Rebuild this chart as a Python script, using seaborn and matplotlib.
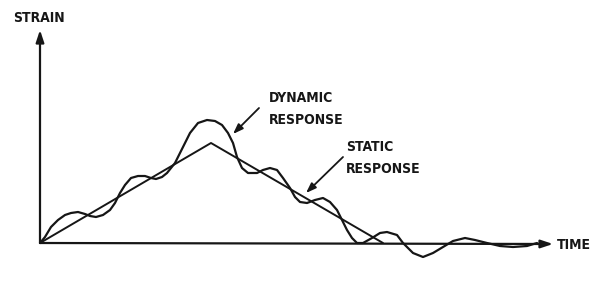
import matplotlib
matplotlib.use("Agg")
import matplotlib.pyplot as plt
from matplotlib import font_manager
import seaborn as sns
import pandas as pd

# Data (arbitrary units: time, strain)
static_time = [0, 171, 343]
static_strain = [0, 100, 0]

dynamic_time = [0, 5, 11, 18, 25, 31, 38, 45, 50, 56, 63, 70, 75, 80, 85, 91,
                98, 105, 111, 116, 122, 127, 135, 143, 150, 158, 167, 175, 182,
                188, 193, 197, 202, 208, 217, 223, 230, 237, 243, 250, 255, 260,
                267, 275, 283, 290, 297, 303, 307, 312, 317, 323, 332, 340, 347,
                357, 363, 373, 383, 393, 403, 413, 425, 435, 447, 460, 473, 487, 497]
dynamic_strain = [0, 6, 16, 23, 28, 30, 31, 29, 27, 26, 28, 33, 40, 50, 58, 65,
                  67, 67, 65, 64, 66, 70, 80, 96, 110, 120, 123, 122, 118,
                  110, 100, 86, 75, 70, 70, 73, 75, 73, 65, 55, 46, 41,
                  40, 43, 45, 41, 33, 21, 13, 5, 0, 0, 5, 10, 11,
                  8, 0, -10, -14, -10, -4, 2, 5, 3, 0, -3, -4, -3, 0]

x_label = "TIME"
y_label = "STRAIN"
dyn_label = "DYNAMIC\nRESPONSE"
stat_label = "STATIC\nRESPONSE"

sns.set_theme(style="white")
cond = [f for f in font_manager.fontManager.ttflist
        if ("Condensed" in f.fname or "Narrow" in f.name or f.stretch == "condensed")]
if cond:
    fam = cond[0].name
    stretch = "condensed"
    fsize = 10
else:
    fam = "DejaVu Sans"
    stretch = "normal"
    fsize = 8.5
plt.rcParams["font.family"] = [fam, "DejaVu Sans"]

ink = "#161616"
fig = plt.figure(figsize=(5.92, 2.81), dpi=100)
ax = fig.add_axes([0, 0, 1, 1])

static_df = pd.DataFrame({"time": static_time, "strain": static_strain})
dyn_df = pd.DataFrame({"time": dynamic_time, "strain": dynamic_strain})
sns.lineplot(data=static_df, x="time", y="strain", ax=ax, color=ink, lw=1.4,
             sort=False, estimator=None)
sns.lineplot(data=dyn_df, x="time", y="strain", ax=ax, color=ink, lw=1.6,
             sort=False, estimator=None)

ax.set_xlim(-40, 552)
ax.set_ylim(-38, 243)
ax.axis("off")

arrow_kw = dict(arrowstyle="-|>,head_length=0.6,head_width=0.2", color=ink, lw=1.6,
                shrinkA=0, shrinkB=0)
ax.annotate("", xy=(0, 213), xytext=(0, 0), arrowprops=arrow_kw)
ax.annotate("", xy=(513, -1), xytext=(0, 0), arrowprops=arrow_kw)

tkw = dict(fontsize=fsize, fontweight="bold", fontstretch=stretch, color=ink,
           linespacing=1.8)
ax.text(-27, 225, y_label, ha="left", va="center", **tkw)
ax.text(517, -2, x_label, ha="left", va="center", **tkw)
ax.text(229, 134, dyn_label, ha="left", va="center", **tkw)
ax.text(306, 85, stat_label, ha="left", va="center", **tkw)

lbl_kw = dict(arrowstyle="-|>,head_length=0.5,head_width=0.18", color=ink, lw=1.3,
              shrinkA=0, shrinkB=0)
ax.annotate("", xy=(193, 109), xytext=(219, 135), arrowprops=lbl_kw)
ax.annotate("", xy=(266, 50), xytext=(303, 86), arrowprops=lbl_kw)

fig.savefig("out.png", dpi=100, facecolor="white")
